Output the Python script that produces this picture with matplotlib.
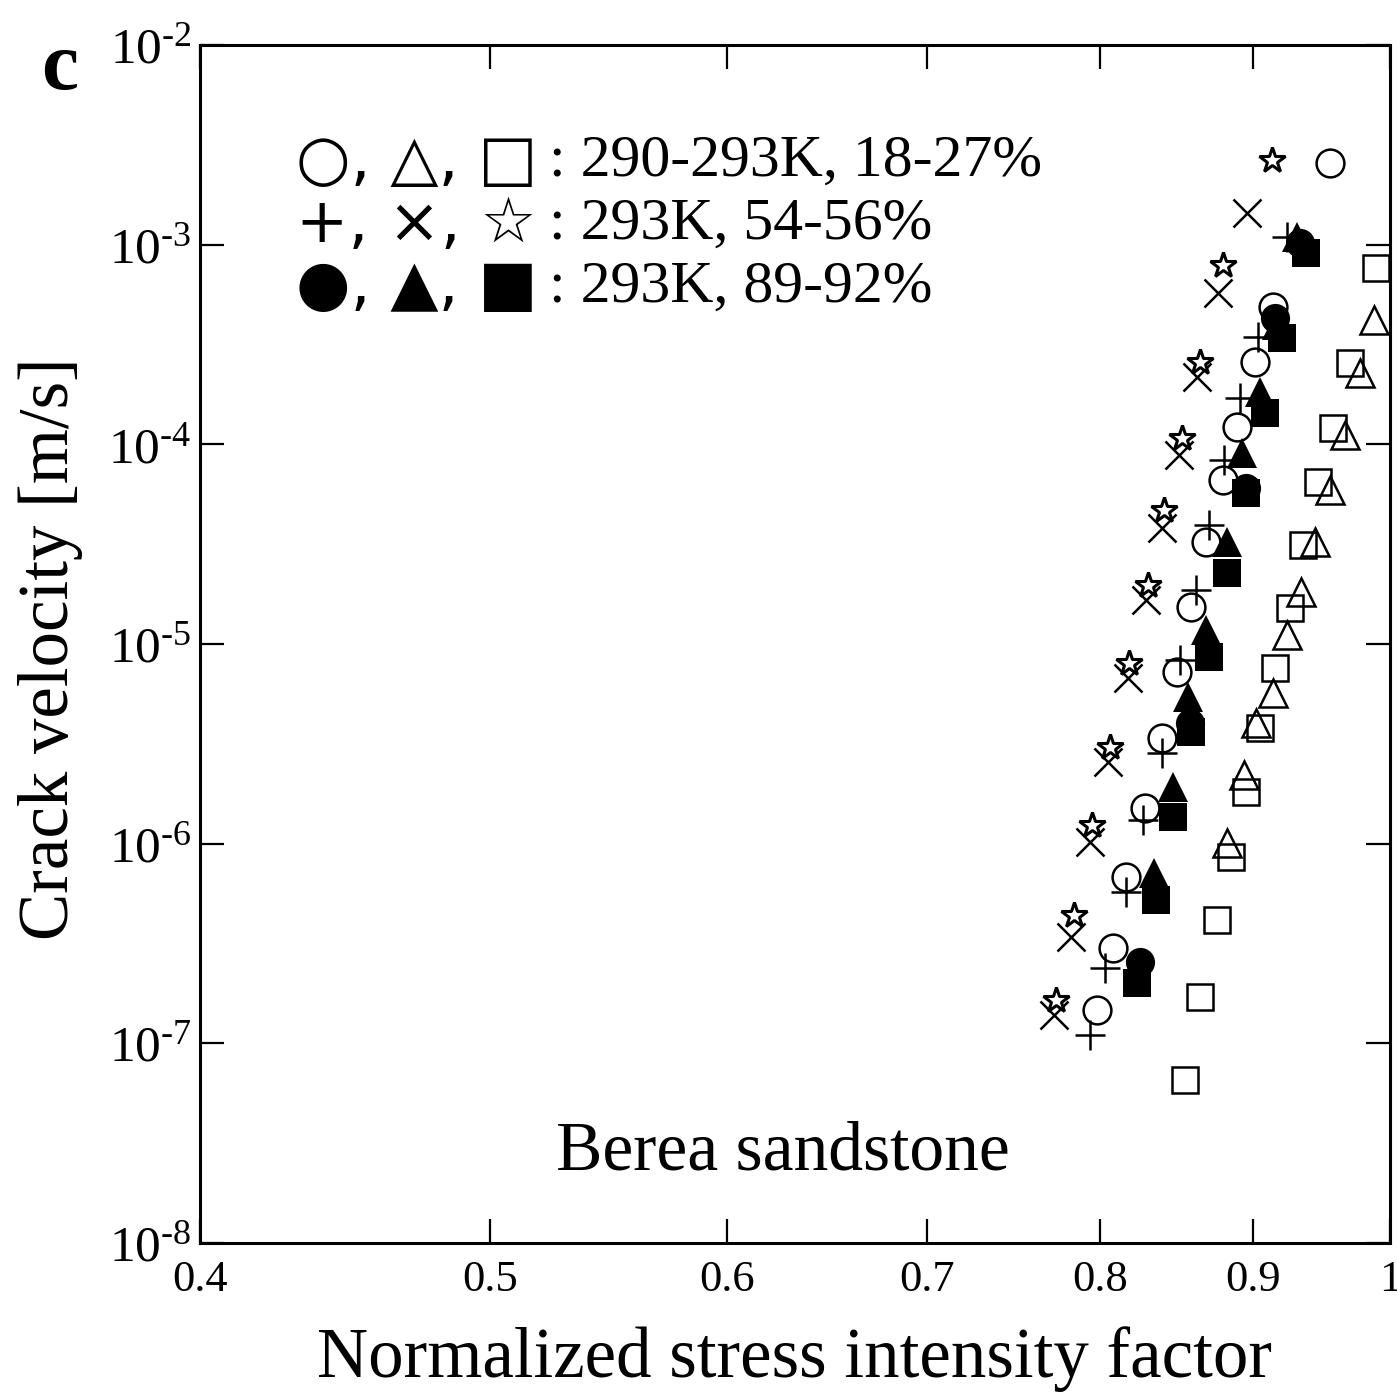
import matplotlib
matplotlib.use('Agg')
import matplotlib.pyplot as plt
from matplotlib.ticker import NullLocator

plt.rcParams['font.family'] = ['Liberation Serif', 'DejaVu Serif']
plt.rcParams['mathtext.fontset'] = 'custom'
plt.rcParams['mathtext.rm'] = 'Liberation Serif'

# 290-293K, 18-27%  (open symbols)
circ_x = [0.955, 0.914, 0.901, 0.889, 0.879, 0.868, 0.858, 0.849, 0.839, 0.828, 0.816, 0.808, 0.798]
circ_v = [2.56e-3, 4.88e-4, 2.59e-4, 1.22e-4, 6.63e-5, 3.24e-5, 1.53e-5, 7.25e-6, 3.39e-6, 1.51e-6,
          6.82e-7, 3.01e-7, 1.47e-7]
tri_x = [0.988, 0.977, 0.966, 0.955, 0.944, 0.934, 0.924, 0.914, 0.902, 0.894, 0.882]
tri_v = [4.2e-4, 2.28e-4, 1.11e-4, 5.91e-5, 3.24e-5, 1.82e-5, 1.11e-5, 5.69e-6, 4.03e-6, 2.21e-6, 1.01e-6]
sq_x = [0.989, 0.970, 0.957, 0.946, 0.935, 0.926, 0.915, 0.905, 0.895, 0.885, 0.875, 0.864, 0.854]
sq_v = [7.64e-4, 2.56e-4, 1.21e-4, 6.48e-5, 3.13e-5, 1.52e-5, 7.59e-6, 3.8e-6, 1.82e-6, 8.59e-7,
        4.15e-7, 1.71e-7, 6.57e-8]

# 293K, 54-56%
plus_x = [0.924, 0.903, 0.891, 0.880, 0.870, 0.861, 0.851, 0.839, 0.827, 0.816, 0.803, 0.794]
plus_v = [1.09e-3, 3.45e-4, 1.71e-4, 8.35e-5, 3.95e-5, 1.87e-5, 8.32e-6, 2.85e-6, 1.32e-6, 5.74e-7,
          2.39e-7, 1.10e-7]
cross_x = [0.896, 0.876, 0.862, 0.850, 0.839, 0.829, 0.817, 0.805, 0.794, 0.782, 0.772]
cross_v = [1.44e-3, 5.73e-4, 2.18e-4, 8.85e-5, 3.81e-5, 1.66e-5, 6.76e-6, 2.57e-6, 1.02e-6, 3.41e-7, 1.39e-7]
star_x = [0.913, 0.879, 0.864, 0.852, 0.840, 0.830, 0.818, 0.806, 0.795, 0.784, 0.773]
star_v = [2.65e-3, 7.9e-4, 2.59e-4, 1.08e-4, 4.69e-5, 1.98e-5, 8.04e-6, 3.05e-6, 1.24e-6, 4.40e-7, 1.65e-7]

# 293K, 89-92%  (filled symbols)
fcirc_x = [0.933, 0.915, 0.895, 0.857, 0.825]
fcirc_v = [1.02e-3, 4.30e-4, 6.05e-5, 4.03e-6, 2.56e-7]
ftri_x = [0.931, 0.917, 0.905, 0.892, 0.882, 0.868, 0.856, 0.846, 0.834]
ftri_v = [1.09e-3, 3.96e-4, 1.83e-4, 9.06e-5, 3.24e-5, 1.18e-5, 5.43e-6, 1.92e-6, 7.14e-7]
fsq_x = [0.937, 0.920, 0.908, 0.895, 0.882, 0.870, 0.858, 0.846, 0.835, 0.823]
fsq_v = [9.1e-4, 3.41e-4, 1.44e-4, 5.71e-5, 2.27e-5, 8.61e-6, 3.63e-6, 1.36e-6, 5.23e-7, 2.01e-7]

x_ticks = [0.4, 0.5, 0.6, 0.7, 0.8, 0.9, 1.0]
x_labels = ['0.4', '0.5', '0.6', '0.7', '0.8', '0.9', '1']
y_exps = [-8, -7, -6, -5, -4, -3, -2]

legend_rows = [
    ('\u25cb, \u25b3, \u25a1', ': 290-293K, 18-27%'),
    ('+, \u00d7, \u2606', ': 293K, 54-56%'),
    ('\u25cf, \u25b2, \u25a0', ': 293K, 89-92%'),
]

fig = plt.figure(figsize=(13.97, 13.95), dpi=100)
ax = fig.add_axes([0.1432, 0.1090, 0.8518, 0.8587])

open_kw = dict(ls='none', color='black', mfc='none', mew=1.8)
ax.plot(sq_x, sq_v, marker='s', ms=19, **open_kw)
ax.plot(tri_x, tri_v, marker='^', ms=20, **open_kw)
ax.plot(circ_x, circ_v, marker='o', ms=20, **open_kw)
ax.plot(plus_x, plus_v, marker='+', ms=22, **open_kw)
ax.plot(cross_x, cross_v, marker='x', ms=20, **open_kw)
ax.plot(star_x, star_v, marker='*', ms=19, ls='none', color='black', mfc='white', mew=2.2)

fill_kw = dict(ls='none', color='black', mfc='black', mew=0)
ax.plot(fcirc_x, fcirc_v, marker='o', ms=21, **fill_kw)
ax.plot(ftri_x, ftri_v, marker='^', ms=21, **fill_kw)
ax.plot(fsq_x, fsq_v, marker='s', ms=20, **fill_kw)

ax.set_xscale('log')
ax.set_yscale('log')
ax.set_xlim(0.4, 1.0)
ax.set_ylim(1e-8, 1e-2)
ax.set_xticks(x_ticks)
ax.set_xticklabels(x_labels)
ax.set_yticks([10.0 ** e for e in y_exps])
# hyphen instead of the mathtext minus, as in the original
ax.set_yticklabels([r'$\mathregular{10^{' + '\u2010' + str(-e) + '}}$' for e in y_exps])
ax.xaxis.set_minor_locator(NullLocator())
ax.yaxis.set_minor_locator(NullLocator())
ax.tick_params(which='major', direction='in', length=17, width=1.6,
               top=True, right=True, pad=12)
ax.tick_params(axis='x', labelsize=32)
ax.tick_params(axis='y', labelsize=37, pad=6)
for sp in ax.spines.values():
    sp.set_linewidth(2.2)

fig.text(0.569, 0.026, 'Normalized stress intensity factor', fontsize=51, ha='center', va='center')
fig.text(0.036, 0.535, 'Crack velocity [m/s]', fontsize=51, ha='center', va='center', rotation=90)
fig.text(0.043, 0.950, 'c', fontsize=60, fontweight='bold', ha='center', va='center')
fig.text(0.5605, 0.1735, 'Berea sandstone', fontsize=50, ha='center', va='center')

row_y = [0.884, 0.839, 0.794]
for (sym, txt), yy in zip(legend_rows, row_y):
    fig.text(0.212, yy, sym, fontsize=45, family=['DejaVu Sans'], ha='left', va='center')
    fig.text(0.393, yy, txt, fontsize=43, ha='left', va='center')

fig.savefig('out.png', dpi=100)
